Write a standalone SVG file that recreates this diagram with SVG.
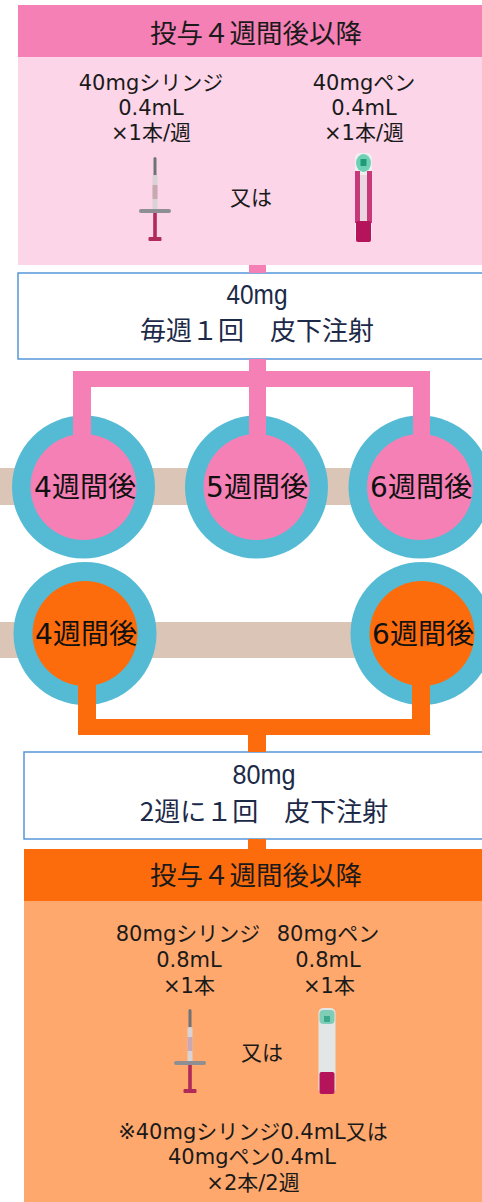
<svg xmlns="http://www.w3.org/2000/svg" width="482" height="1202" viewBox="0 0 482 1202">
  <style>
    .hdr { font-family: "Noto Sans CJK JP", sans-serif; font-size: 26.5px; fill: #1a1a1a; text-anchor: middle; }
    .lbl { font-family: "DejaVu Sans", "Noto Sans CJK JP", sans-serif; font-size: 21px; fill: #1a1a1a; text-anchor: middle; }
    .box { fill: #ffffff; stroke: #4a8fd6; stroke-width: 1.4; }
    .boxt { font-family: "Noto Sans CJK JP", sans-serif; font-size: 26px; fill: #1c2a48; text-anchor: middle; }
    .dose { font-family: "Liberation Sans", "Noto Sans CJK JP", sans-serif; font-size: 27px; fill: #1c2a48; text-anchor: middle; }
    .ring { fill: #55bbd4; }
    .inP { fill: #f480b5; }
    .inO { fill: #fd6c0c; }
    .circt { font-family: "DejaVu Sans", "Noto Sans CJK JP", sans-serif; font-size: 28px; fill: #111111; text-anchor: middle; }
    .band { fill: #dbc5b6; }
    .pk { fill: #f480b5; }
    .or { fill: #fd6c0c; }
  </style>
  <defs>
    <!-- prefilled syringe -->
    <g id="syringe">
      <rect x="-1.5" y="0" width="3" height="20" rx="1.5" fill="#6f7378"/>
      <rect x="-2.5" y="18" width="5" height="36" rx="1.5" fill="#d9d3d6"/>
      <rect x="-2.5" y="28" width="5" height="14" fill="#c9a8b4"/>
      <rect x="-16" y="52" width="32" height="4" rx="2" fill="#8d8f92"/>
      <rect x="-1.8" y="56" width="3.6" height="26" fill="#b02a5a"/>
      <rect x="-6.5" y="80" width="13" height="4" rx="1" fill="#b02a5a"/>
    </g>
    <!-- auto-injector pen, magenta trim -->
    <g id="pen">
      <rect x="-8.5" y="0" width="17" height="89" rx="5" fill="#eef0f0"/>
      <ellipse cx="0" cy="10" rx="7.5" ry="9" fill="#6fd0b3"/>
      <rect x="-3" y="6" width="6" height="7" fill="#1e9c78"/>
      <path d="M-8.5 18 h5 v52 h-5 z M3.5 18 h5 v52 h-5 z" fill="#c8397a"/>
      <rect x="-3.5" y="22" width="7" height="46" fill="#e9d6de"/>
      <rect x="-7.5" y="68" width="15" height="21" rx="2" fill="#b5145a"/>
    </g>
    <!-- auto-injector pen, light body -->
    <g id="pen2">
      <rect x="-8.5" y="0" width="17" height="86" rx="5" fill="#e3e6e6"/>
      <rect x="-7.5" y="2" width="15" height="14" rx="4" fill="#7fcdb6"/>
      <rect x="-3" y="8" width="6" height="6" fill="#3aa88a"/>
      <rect x="-7.5" y="64" width="15" height="22" rx="2" fill="#b5145a"/>
    </g>
  </defs>

  <!-- timeline bands -->
  <rect class="band" x="0" y="468" width="482" height="37"/>
  <rect class="band" x="0" y="622" width="482" height="36"/>

  <!-- 40 mg maintenance panel -->
  <g id="panel-40">
    <rect x="18" y="5" width="470" height="52" fill="#f480b5"/>
    <rect x="18" y="57" width="470" height="208" fill="#fcd5e8"/>
    <text class="hdr" x="256" y="43">投与４週間後以降</text>
    <text class="lbl" x="151" y="90">40mgシリンジ</text>
    <text class="lbl" x="151" y="115">0.4mL</text>
    <text class="lbl" x="151" y="140">×1本/週</text>
    <text class="lbl" x="364" y="90">40mgペン</text>
    <text class="lbl" x="364" y="115">0.4mL</text>
    <text class="lbl" x="364" y="140">×1本/週</text>
    <use href="#syringe" x="155" y="157"/>
    <text class="lbl" x="251" y="205">又は</text>
    <use href="#pen" x="363.5" y="153"/>
  </g>

  <!-- 40 mg weekly box -->
  <g id="box-40">
    <rect class="box" x="18" y="273" width="472" height="86"/>
    <text class="dose" x="257" y="304" textLength="61" lengthAdjust="spacingAndGlyphs">40mg</text>
    <text class="boxt" x="257" y="340">毎週１回　皮下注射</text>
  </g>

  <!-- first-row timepoints -->
  <g id="p4">
    <circle class="ring" cx="83.5" cy="487" r="71.5"/>
    <circle class="inP" cx="83.5" cy="487" r="53"/>
    <text class="circt" x="85" y="497">4週間後</text>
  </g>
  <g id="p5">
    <circle class="ring" cx="256.5" cy="487" r="71.5"/>
    <circle class="inP" cx="256.5" cy="487" r="53"/>
    <text class="circt" x="257" y="497">5週間後</text>
  </g>
  <g id="p6">
    <circle class="ring" cx="420" cy="487" r="71.5"/>
    <circle class="inP" cx="420" cy="487" r="53"/>
    <text class="circt" x="421" y="497">6週間後</text>
  </g>

  <!-- second-row timepoints -->
  <g id="o4">
    <circle class="ring" cx="85" cy="633.5" r="71.5"/>
    <circle class="inO" cx="85" cy="633.5" r="52.5"/>
    <text class="circt" x="86" y="644">4週間後</text>
  </g>
  <g id="o6">
    <circle class="ring" cx="422" cy="633.5" r="71.5"/>
    <circle class="inO" cx="422" cy="633.5" r="52.5"/>
    <text class="circt" x="423" y="644">6週間後</text>
  </g>

  <!-- 80 mg biweekly box -->
  <g id="box-80">
    <rect class="box" x="24" y="752" width="466" height="87"/>
    <text class="dose" x="264" y="784" textLength="63" lengthAdjust="spacingAndGlyphs">80mg</text>
    <text class="boxt" x="264" y="821">2週に１回　皮下注射</text>
  </g>

  <!-- 80 mg maintenance panel -->
  <g id="panel-80">
    <rect x="24" y="849" width="464" height="52" fill="#fd6c0c"/>
    <rect x="24" y="901" width="464" height="301" fill="#fea86d"/>
    <text class="hdr" x="256" y="885">投与４週間後以降</text>
    <text class="lbl" x="188" y="941">80mgシリンジ</text>
    <text class="lbl" x="189" y="967">0.8mL</text>
    <text class="lbl" x="189" y="993">×1本</text>
    <text class="lbl" x="328" y="941">80mgペン</text>
    <text class="lbl" x="328" y="967">0.8mL</text>
    <text class="lbl" x="329" y="993">×1本</text>
    <use href="#syringe" x="190" y="1009"/>
    <text class="lbl" x="262" y="1060">又は</text>
    <use href="#pen2" x="327" y="1008"/>
    <text class="lbl" x="253" y="1139">※40mgシリンジ0.4mL又は</text>
    <text class="lbl" x="252" y="1164">40mgペン0.4mL</text>
    <text class="lbl" x="253" y="1190">×2本/2週</text>
  </g>

  <!-- connectors -->
  <g id="connectors">
    <rect class="pk" x="249" y="265" width="17" height="8"/>
    <rect class="pk" x="249" y="359" width="17" height="82"/>
    <rect class="pk" x="73" y="371" width="357" height="16"/>
    <rect class="pk" x="73" y="371" width="18" height="70"/>
    <rect class="pk" x="413" y="371" width="17" height="70"/>
    <rect class="or" x="78" y="680" width="18" height="55"/>
    <rect class="or" x="412" y="680" width="18" height="55"/>
    <rect class="or" x="78" y="719" width="352" height="16"/>
    <rect class="or" x="248" y="735" width="18" height="17"/>
    <rect class="or" x="248" y="839" width="18" height="10"/>
  </g>
</svg>
